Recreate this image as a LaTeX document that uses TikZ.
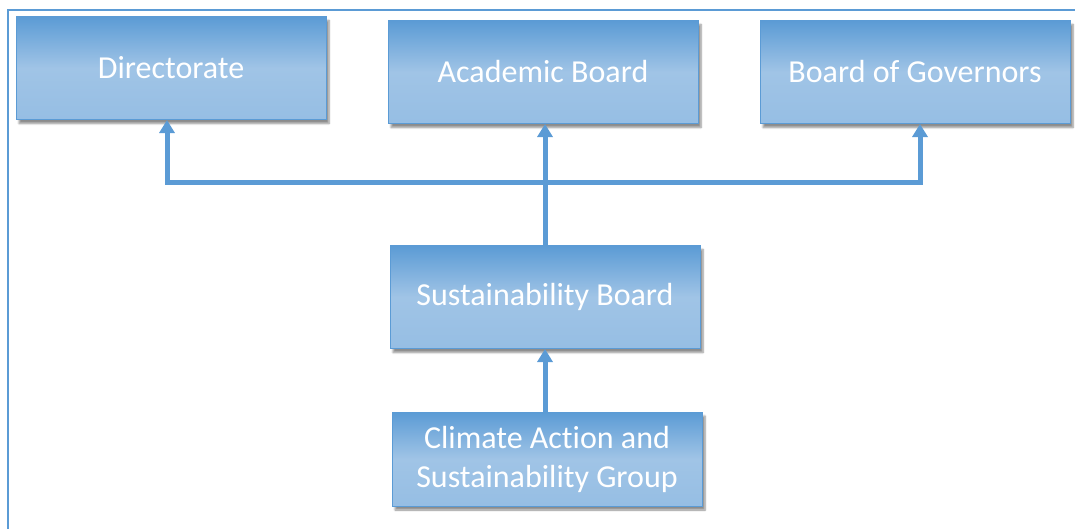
\documentclass[tikz,border=0pt]{standalone}
\usepackage{fontspec}
\setmainfont{Carlito}[Ligatures=NoCommon]
\usetikzlibrary{positioning}
\usetikzlibrary{calc}
\usetikzlibrary{arrows.meta}
\usetikzlibrary{shadows.blur}
\definecolor{boxblue}{RGB}{91,155,213}
\definecolor{boxlight}{RGB}{160,196,230}
\tikzset{
    unit/.style = {rectangle, draw=boxblue, line width=1pt,
        top color=boxblue, bottom color=boxlight!85!boxblue, middle color=boxlight,
        text=white, minimum width=310pt, minimum height=103pt,
        font=\fontsize{32}{39}\selectfont, align=center,
        blur shadow={shadow xshift=3pt, shadow yshift=-4pt, shadow blur steps=6, shadow opacity=45}},
    link/.style = {draw=boxblue, line width=5pt},
    uplink/.style = {link, -{Triangle[length=13pt,width=15pt]}}}

\begin{document}
\begin{tikzpicture}[x=1pt, y=-1pt, on grid]
    \useasboundingbox (0,0) rectangle (1075,528);
    \draw[boxblue, line width=1.5pt] (8,560) -- (8,10) -- (1100,10);
    \node[unit] (A) at (543,72) {Academic Board};
    \node[unit] (D) [left = 372pt of A, yshift=4pt] {Directorate};
    \node[unit] (G) [right = 372pt of A] {Board of Governors};
    \node[unit] (S) [below = 225pt of A, xshift=2pt] {Sustainability Board};
    \node[unit, minimum height=94pt] (C) [below = 162pt of S, xshift=2pt] {Climate Action and\\Sustainability Group};
    \coordinate (bus) at ($(A.south)!0.48!(S.north)$);
    \draw[uplink] (S.north) -- (S.north |- A.south);
    \draw[uplink] (bus) -| ([xshift=-4pt]D.south);
    \draw[uplink] (bus) -| ([xshift=5pt]G.south);
    \draw[uplink] (S.south |- C.north) -- (S.south);
\end{tikzpicture}
\end{document}
